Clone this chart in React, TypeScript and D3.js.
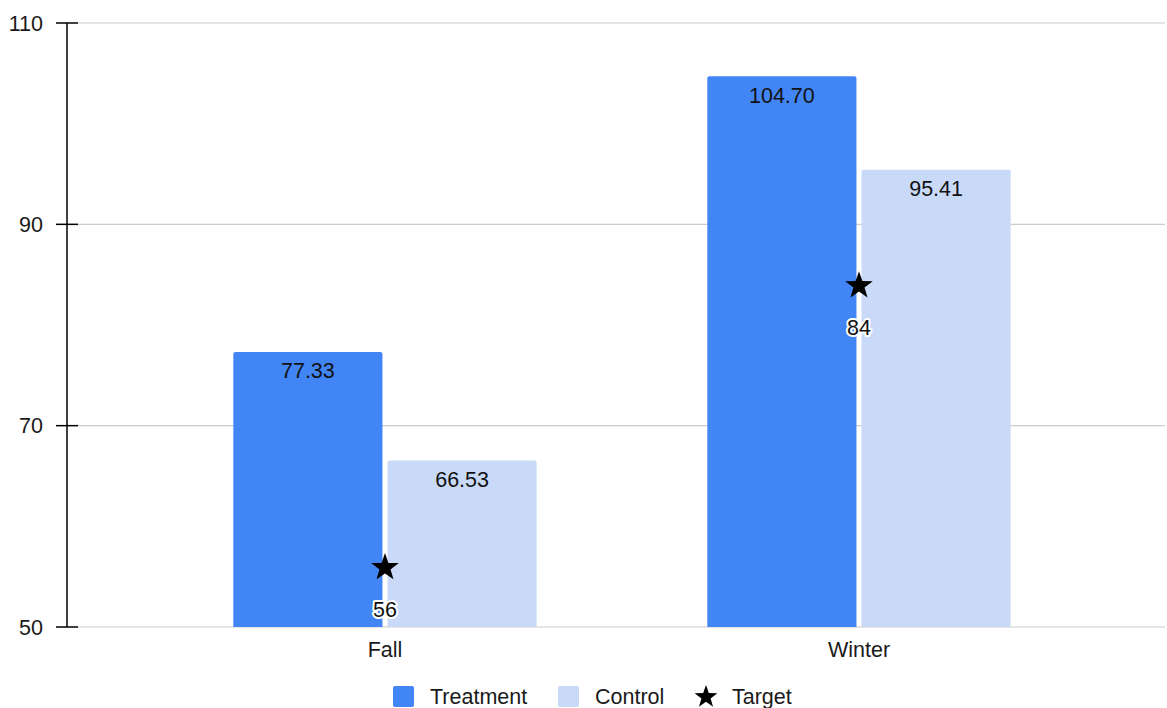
import React from "react";
import * as d3 from "d3";

const categories = ["Fall", "Winter"];
const seriesNames = ["Treatment", "Control"];
const treatment = [77.33, 104.7];
const control = [66.53, 95.41];
const target = [56, 84];
const yTicks = [50, 70, 90, 110];
const colors = ["#4285F4", "#C9DAF8"];

const W = 1167;
const H = 708;
const font = "Arial, 'Liberation Sans', sans-serif";
const fs = 21.5;

function starPath(cx: number, cy: number, R: number, r: number) {
  const pts: [number, number][] = [];
  for (let i = 0; i < 10; i++) {
    const a = -Math.PI / 2 + (i * Math.PI) / 5;
    const rad = i % 2 === 0 ? R : r;
    pts.push([cx + rad * Math.cos(a), cy + rad * Math.sin(a)]);
  }
  return d3.line()(pts) + "Z";
}

export default function App() {
  const y = d3.scaleLinear().domain([50, 110]).range([627, 23]);
  const x0 = d3.scaleBand().domain(categories).range([148, 1096]).paddingInner(0.36).paddingOuter(0.18);
  const x1 = d3.scaleBand().domain(seriesNames).range([0, x0.bandwidth()]).paddingInner(0.033);
  const values = [treatment, control];
  const fmt = d3.format(".2f");

  return (
    <svg width={W} height={H} style={{ position: "absolute", left: 0, top: 0, fontFamily: font }}>
      {yTicks.map((t) => (
        <g key={t}>
          <line x1={78} x2={1165} y1={y(t)} y2={y(t)} stroke="#cccccc" strokeWidth={1.2} />
          <line x1={56} x2={78} y1={y(t)} y2={y(t)} stroke="#000" strokeWidth={1.5} />
          <text x={43} y={y(t)} dy="0.35em" textAnchor="end" fontSize={fs} fill="#1a1a1a">{t}</text>
        </g>
      ))}
      <line x1={67} x2={67} y1={y(110)} y2={y(50)} stroke="#000" strokeWidth={1.5} />
      {categories.map((c, ci) => (
        <g key={c}>
          {seriesNames.map((s, si) => {
            const v = values[si][ci];
            const bx = x0(c)! + x1(s)!;
            const bw = x1.bandwidth();
            const top = y(v);
            const r = 2;
            const d = `M${bx},${y(50)}V${top + r}Q${bx},${top} ${bx + r},${top}H${bx + bw - r}Q${bx + bw},${top} ${bx + bw},${top + r}V${y(50)}Z`;
            return (
              <g key={s}>
                <path d={d} fill={colors[si]} />
                <text x={bx + bw / 2} y={top + 19} dy="0.35em" textAnchor="middle" fontSize={fs} fill="#111">{fmt(v)}</text>
              </g>
            );
          })}
          <path d={starPath(x0(c)! + x0.bandwidth() / 2, y(target[ci]) + 1, 14.5, 5.8)} fill="#000" />
          <text x={x0(c)! + x0.bandwidth() / 2} y={y(target[ci]) + 43} dy="0.35em" textAnchor="middle" fontSize={fs}
            fill="#111" stroke="#fff" strokeWidth={4} paintOrder="stroke" strokeLinejoin="round">{target[ci]}</text>
          <text x={x0(c)! + x0.bandwidth() / 2} y={649} dy="0.35em" textAnchor="middle" fontSize={fs} fill="#1a1a1a">{c}</text>
        </g>
      ))}
      <g>
        <rect x={393} y={686} width={21} height={21} rx={2} fill={colors[0]} />
        <text x={430} y={696} dy="0.35em" fontSize={fs} fill="#1a1a1a">Treatment</text>
        <rect x={558} y={686} width={21} height={21} rx={2} fill={colors[1]} />
        <text x={595} y={696} dy="0.35em" fontSize={fs} fill="#1a1a1a">Control</text>
        <path d={starPath(706, 697, 12, 4.8)} fill="#000" />
        <text x={732} y={696} dy="0.35em" fontSize={fs} fill="#1a1a1a">Target</text>
      </g>
    </svg>
  );
}
